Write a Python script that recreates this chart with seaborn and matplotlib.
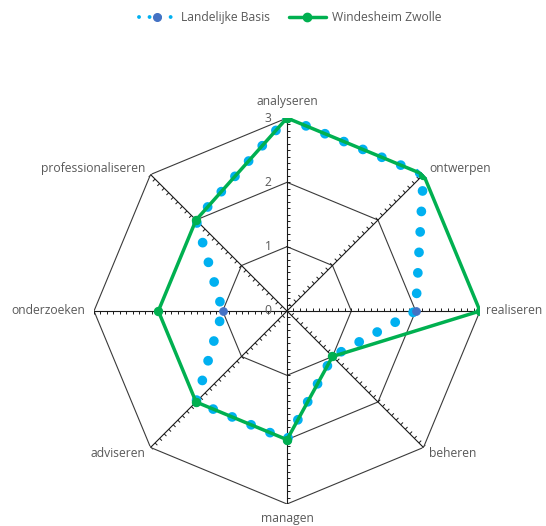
import numpy as np
import pandas as pd
import seaborn as sns
import matplotlib.pyplot as plt
from matplotlib.collections import LineCollection
from matplotlib.lines import Line2D

categories = ['analyseren', 'ontwerpen', 'realiseren', 'beheren',
              'managen', 'adviseren', 'onderzoeken', 'professionaliseren']
landelijke_basis = [3, 3, 2, 1, 2, 2, 1, 2]
windesheim_zwolle = [3, 3, 3, 1, 2, 2, 2, 2]
ring_values = [1, 2, 3]
value_labels = ['0', '1', '2', '3']

sns.set_style('white')
plt.rcParams['font.family'] = ['Open Sans', 'DejaVu Sans']
text_color = '#595959'
grid_color = '#3a3a3a'
blue_line = '#00B0F0'
blue_marker = '#4472C4'
green = '#00B050'
fs = 8.7

n = len(categories)
angles = np.linspace(0, 2 * np.pi, n, endpoint=False)
angles_closed = np.append(angles, 2 * np.pi)

fig = plt.figure(figsize=(5.46, 5.26), dpi=100)
ax = fig.add_axes([94 / 546, 22 / 526, 386 / 546, 386 / 526], projection='polar')
ax.set_theta_zero_location('N')
ax.set_theta_direction(-1)
ax.grid(False)
ax.spines['polar'].set_visible(False)
ax.set_xticks([])
ax.set_yticks([])

# octagon rings and spokes
for r in ring_values:
    ax.plot(angles_closed, [r] * (n + 1), color=grid_color, lw=0.8, zorder=1)
for a in angles:
    ax.plot([a, a], [0, 3], color='#1a1a1a', lw=0.8, zorder=1)

# minor tick marks on every spoke
tick_len = 0.05
segs = []
for i, a in enumerate(angles):
    ux, uy = np.sin(a), np.cos(a)
    nx, ny = -uy, ux
    if i == 0:
        nx, ny = 1, 0
    for r in np.arange(0.1, 3.0001, 0.1):
        x1, y1 = r * ux, r * uy
        x2, y2 = x1 + tick_len * nx, y1 + tick_len * ny
        segs.append([(np.arctan2(x1, y1), np.hypot(x1, y1)),
                     (np.arctan2(x2, y2), np.hypot(x2, y2))])
ax.add_collection(LineCollection(segs, colors='#1a1a1a', linewidths=0.7,
                                 transform=ax.transData, zorder=1))

df = pd.DataFrame({
    'theta': np.concatenate([angles_closed, angles_closed]),
    'value': landelijke_basis + landelijke_basis[:1] + windesheim_zwolle + windesheim_zwolle[:1],
    'series': ['Landelijke Basis'] * (n + 1) + ['Windesheim Zwolle'] * (n + 1),
})

sns.lineplot(data=df[df['series'] == 'Landelijke Basis'], x='theta', y='value',
             sort=False, estimator=None, color=blue_line, lw=7,
             marker='o', markersize=5.5, markerfacecolor=blue_marker,
             markeredgecolor=blue_marker, legend=False, ax=ax, zorder=3)
blue = ax.lines[-1]
blue.set_dashes([0.01, 2.1])
blue.set_dash_capstyle('round')

sns.lineplot(data=df[df['series'] == 'Windesheim Zwolle'], x='theta', y='value',
             sort=False, estimator=None, color=green, lw=2.5,
             marker='o', markersize=6, markerfacecolor=green,
             markeredgecolor=green, legend=False, ax=ax, zorder=4)

ax.set_ylim(0, 3)
ax.set_xlabel('')
ax.set_ylabel('')

# category labels
label_pos = {
    0: ('center', 'bottom', (0, 7)),
    1: ('left', 'center', (4, 4)),
    2: ('left', 'center', (4, 0)),
    3: ('left', 'center', (4, -4)),
    4: ('center', 'top', (0, -6)),
    5: ('right', 'center', (-4, -4)),
    6: ('right', 'center', (-6, 0)),
    7: ('right', 'center', (-4, 4)),
}
for i, (a, cat) in enumerate(zip(angles, categories)):
    ha, va, off = label_pos[i]
    ax.annotate(cat, xy=(a, 3), xytext=off, textcoords='offset points',
                ha=ha, va=va, fontsize=fs, color=text_color, annotation_clip=False)

# value axis labels
for r, lab in enumerate(value_labels):
    ax.annotate(lab, xy=(0, r), xytext=(-11, 0), textcoords='offset points',
                ha='right', va='center', fontsize=fs, color=text_color)

# legend with smaller dotted handle, like the original
h_blue = Line2D([], [], color=blue_line, lw=2.8, dashes=[0.01, 2.7],
                dash_capstyle='round', marker='o', markersize=5.5,
                markerfacecolor=blue_marker, markeredgecolor=blue_marker)
h_green = Line2D([], [], color=green, lw=2.5, marker='o', markersize=6,
                 markerfacecolor=green, markeredgecolor=green)
fig.legend([h_blue, h_green], ['Landelijke Basis', 'Windesheim Zwolle'],
           loc='center', ncol=2, frameon=False,
           bbox_to_anchor=(0.531, 0.966), fontsize=fs, labelcolor=text_color,
           handlelength=3.0, columnspacing=1.6, handletextpad=0.5)

fig.savefig('out.png', dpi=100)
